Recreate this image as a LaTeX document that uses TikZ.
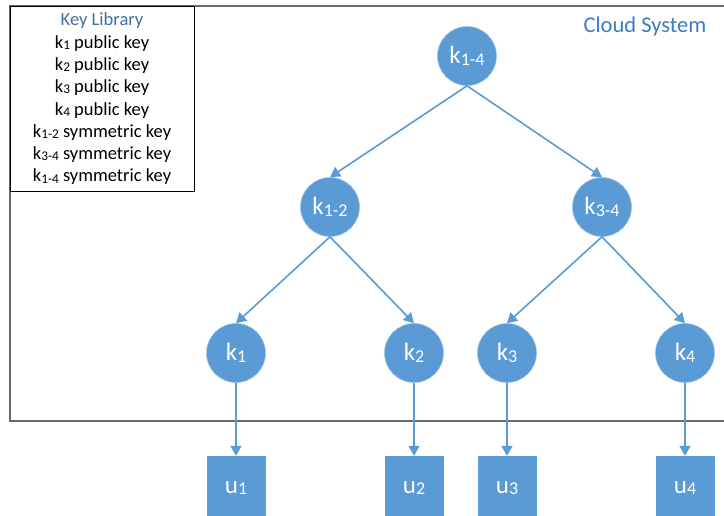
\documentclass[tikz,border=0pt]{standalone}
\usepackage{fontspec}
\setmainfont{Carlito}
\usetikzlibrary{arrows.meta}
\definecolor{nodeblue}{HTML}{5B9BD5}
\definecolor{titleblue}{HTML}{41719C}
\definecolor{cloudblue}{HTML}{3D7CBF}
\definecolor{framegray}{HTML}{6A6A6A}
\newcommand\sbs[1]{\raisebox{-0.12ex}{\scalebox{0.72}{#1}}}
\begin{document}
\begin{tikzpicture}[x=1pt,y=-1pt,
  keynode/.style={circle,fill=nodeblue,draw=nodeblue!60!white,line width=0.6pt,minimum size=59pt,inner sep=0pt,text=white,font=\fontsize{25}{27}\selectfont},
  usernode/.style={rectangle,fill=nodeblue,minimum width=59pt,minimum height=64pt,inner sep=0pt,text=white,font=\fontsize{25}{27}\selectfont},
  arr/.style={draw=nodeblue,line width=1.6pt,-{Triangle[width=11pt,length=10pt]}},
  frame/.style={draw=framegray,line width=1.6pt},
  libframe/.style={draw=black,line width=0.8pt,fill=white}]
\useasboundingbox (0,0) rectangle (724,515);
\clip (0,0) rectangle (724,515);
\fill[white] (0,0) rectangle (724,515);
% cloud system frame
\draw[frame] (10,6) rectangle (740,421);
\node[text=cloudblue,font=\fontsize{22.5}{25}\selectfont] (cloud) at (645,26) {Cloud System};
% key library
\draw[libframe] (10,6) rectangle (194,191);
\node[align=center,font=\fontsize{18.5}{22.3}\selectfont,inner sep=0pt] (lib) at (102,99)
  {\textcolor{titleblue}{Key Library}\\
   k\sbs{1} public key\\
   k\sbs{2} public key\\
   k\sbs{3} public key\\
   k\sbs{4} public key\\
   k\sbs{1-2} symmetric key\\
   k\sbs{3-4} symmetric key\\
   k\sbs{1-4} symmetric key};
% key tree
\node[keynode] (k14) at (467,56) {k\sbs{1-4}};
\node[keynode] (k12) at (330,207) {k\sbs{1-2}};
\node[keynode] (k34) at (602,207) {k\sbs{3-4}};
\node[keynode] (k1) at (236,353) {k\sbs{1}};
\node[keynode] (k2) at (414,353) {k\sbs{2}};
\node[keynode] (k3) at (507,353) {k\sbs{3}};
\node[keynode] (k4) at (685,353) {k\sbs{4}};
% users
\node[usernode] (u1) at (236,488) {u\sbs{1}};
\node[usernode] (u2) at (414,488) {u\sbs{2}};
\node[usernode] (u3) at (507,488) {u\sbs{3}};
\node[usernode] (u4) at (685,488) {u\sbs{4}};
% connectors
\draw[arr] (k14.south) -- (k12.north);
\draw[arr] (k14.south) -- (k34.north);
\draw[arr] (k12.south) -- (k1.north);
\draw[arr] (k12.south) -- (k2.north);
\draw[arr] (k34.south) -- (k3.north);
\draw[arr] (k34.south) -- (k4.north);
\draw[arr] (k1.south) -- (u1.north);
\draw[arr] (k2.south) -- (u2.north);
\draw[arr] (k3.south) -- (u3.north);
\draw[arr] (k4.south) -- (u4.north);
\end{tikzpicture}
\end{document}
